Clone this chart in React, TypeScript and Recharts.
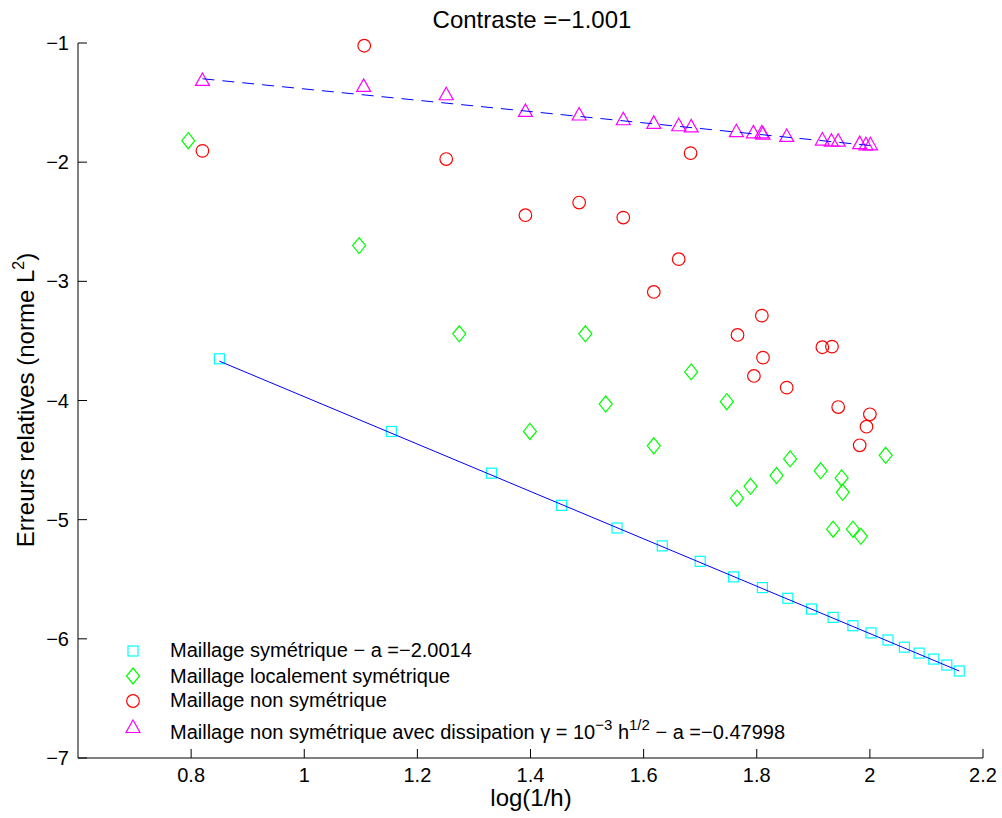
import React from 'react';
import { ScatterChart, Scatter, XAxis, YAxis } from 'recharts';

const FONT = '"Liberation Sans", Arial, Helvetica, sans-serif';

// Maillage symétrique (squares)
const symX = [0.850, 1.154, 1.331, 1.455, 1.553, 1.633, 1.700, 1.759, 1.810, 1.855, 1.897, 1.935, 1.970, 2.002, 2.032, 2.061, 2.087, 2.113, 2.136, 2.158];
const symY = [-3.65, -4.26, -4.61, -4.88, -5.07, -5.22, -5.35, -5.48, -5.57, -5.66, -5.75, -5.82, -5.89, -5.95, -6.01, -6.07, -6.12, -6.17, -6.22, -6.27];

// Maillage localement symétrique (diamonds)
const locX = [0.795, 1.097, 1.274, 1.399, 1.497, 1.533, 1.618, 1.684, 1.747, 1.765, 1.789, 1.835, 1.859, 1.913, 1.935, 1.950, 1.952, 1.970, 1.984, 2.028];
const locY = [-1.82, -2.70, -3.44, -4.26, -3.44, -4.03, -4.38, -3.76, -4.01, -4.82, -4.72, -4.63, -4.49, -4.59, -5.08, -4.65, -4.77, -5.08, -5.14, -4.46];

// Maillage non symétrique (circles)
const nonX = [0.820, 1.106, 1.251, 1.391, 1.486, 1.564, 1.618, 1.662, 1.683, 1.766, 1.795, 1.809, 1.811, 1.853, 1.916, 1.933, 1.944, 1.982, 1.994, 2.000];
const nonY = [-1.905, -1.023, -1.974, -2.445, -2.339, -2.465, -3.089, -2.814, -1.924, -3.450, -3.794, -3.288, -3.640, -3.892, -3.553, -3.548, -4.055, -4.376, -4.220, -4.116];

// Maillage non symétrique avec dissipation (triangles)
const disX = [0.820, 1.105, 1.251, 1.391, 1.486, 1.564, 1.618, 1.662, 1.684, 1.764, 1.794, 1.809, 1.811, 1.853, 1.916, 1.932, 1.944, 1.982, 1.993, 2.001];
const disY = [-1.31, -1.36, -1.43, -1.57, -1.60, -1.64, -1.67, -1.69, -1.70, -1.74, -1.75, -1.75, -1.76, -1.78, -1.81, -1.82, -1.82, -1.84, -1.85, -1.85];

// fitted lines
const fitSymX = [0.850, 2.158];
const fitSymY = [-3.67, -6.27];
const fitDisX = [0.820, 2.000];
const fitDisY = [-1.30, -1.86];

const xTicks = [0.8, 1, 1.2, 1.4, 1.6, 1.8, 2, 2.2];
const yTicks = [-7, -6, -5, -4, -3, -2, -1];

const zip = (xs: number[], ys: number[]) => xs.map((x, i) => ({ x, y: ys[i] }));

const symData = zip(symX, symY);
const locData = zip(locX, locY);
const nonData = zip(nonX, nonY);
const disData = zip(disX, disY);
const fitSym = zip(fitSymX, fitSymY);
const fitDis = zip(fitDisX, fitDisY);

const fmt = (v: number) => String(v).replace('-', '\u2212');

const Square = ({ cx, cy }: any) => (
  <rect x={cx - 5} y={cy - 5} width={10} height={10} fill="none" stroke="#00ffff" strokeWidth={1.2} />
);
const Diamond = ({ cx, cy }: any) => (
  <polygon
    points={`${cx},${cy - 8} ${cx + 6.5},${cy} ${cx},${cy + 8} ${cx - 6.5},${cy}`}
    fill="none"
    stroke="#00ff00"
    strokeWidth={1.2}
  />
);
const Circle = ({ cx, cy }: any) => (
  <circle cx={cx} cy={cy} r={6.3} fill="none" stroke="#ff0000" strokeWidth={1.2} />
);
const Triangle = ({ cx, cy }: any) => (
  <polygon
    points={`${cx},${cy - 7} ${cx + 7},${cy + 5.5} ${cx - 7},${cy + 5.5}`}
    fill="none"
    stroke="#ff00ff"
    strokeWidth={1.2}
  />
);
const Nothing = () => <g />;

const XTick = ({ x, y, payload }: any) => (
  <g>
    <line x1={x} x2={x} y1={y} y2={y - 9} stroke="#000" strokeWidth={1} />
    <text x={x} y={y + 24} textAnchor="middle" fontFamily={FONT} fontSize={20} fill="#000">
      {fmt(payload.value)}
    </text>
  </g>
);

const YTick = ({ x, y, payload }: any) => (
  <g>
    <line x1={x} x2={x + 9} y1={y} y2={y} stroke="#000" strokeWidth={1} />
    <text x={x - 9} y={y + 7} textAnchor="end" fontFamily={FONT} fontSize={20} fill="#000">
      {fmt(payload.value)}
    </text>
  </g>
);

export default function App() {
  return (
    <div style={{ position: 'absolute', left: 0, top: 0, width: 1002, height: 818, background: '#fff' }}>
      <ScatterChart width={1002} height={818} margin={{ top: 43, right: 19, bottom: 20, left: 18 }}>
        <XAxis
          type="number"
          dataKey="x"
          domain={[0.6, 2.2]}
          ticks={xTicks}
          height={40}
          tickSize={0}
          tickMargin={0}
          tickLine={false}
          axisLine={{ stroke: '#000', strokeWidth: 1 }}
          tick={<XTick />}
        />
        <YAxis
          type="number"
          dataKey="y"
          domain={[-7, -1]}
          ticks={yTicks}
          width={60}
          tickSize={0}
          tickMargin={0}
          tickLine={false}
          axisLine={{ stroke: '#000', strokeWidth: 1 }}
          tick={<YTick />}
        />
        <Scatter data={symData} shape={Square} isAnimationActive={false} />
        <Scatter data={locData} shape={Diamond} isAnimationActive={false} />
        <Scatter data={nonData} shape={Circle} isAnimationActive={false} />
        <Scatter data={disData} shape={Triangle} isAnimationActive={false} />
        <Scatter
          data={fitSym}
          shape={Nothing}
          line={{ stroke: '#0000ff', strokeWidth: 1 }}
          isAnimationActive={false}
        />
        <Scatter
          data={fitDis}
          shape={Nothing}
          line={{ stroke: '#0000ff', strokeWidth: 1, strokeDasharray: '12 8' }}
          isAnimationActive={false}
        />
      </ScatterChart>

      <svg
        width={1002}
        height={818}
        style={{ position: 'absolute', left: 0, top: 0, pointerEvents: 'none' }}
        fontFamily={FONT}
      >
        <text x={532} y={28} textAnchor="middle" fontSize={24} fill="#000">
          Contraste =−1.001
        </text>
        <text x={531} y={806} textAnchor="middle" fontSize={24} fill="#000">
          log(1/h)
        </text>
        <text transform="rotate(-90)" x={-400} y={34} textAnchor="middle" fontSize={24} fill="#000">
          Erreurs relatives (norme L<tspan dy={-10} fontSize={16}>2</tspan>
          <tspan dy={10}>)</tspan>
        </text>

        <Square cx={133} cy={651} />
        <Diamond cx={133} cy={676} />
        <Circle cx={133} cy={701} />
        <Triangle cx={133} cy={727} />
        <text x={170} y={657} fontSize={20} fill="#000">Maillage symétrique − a =−2.0014</text>
        <text x={170} y={683} fontSize={20} fill="#000">Maillage localement symétrique</text>
        <text x={170} y={707} fontSize={20} fill="#000">Maillage non symétrique</text>
        <text x={170} y={739} fontSize={20} fill="#000">
          Maillage non symétrique avec dissipation γ = 10<tspan dy={-9} fontSize={15}>−3</tspan>
          <tspan dy={9}> h</tspan>
          <tspan dy={-9} fontSize={15}>1/2</tspan>
          <tspan dy={9}> − a =−0.47998</tspan>
        </text>
      </svg>
    </div>
  );
}
